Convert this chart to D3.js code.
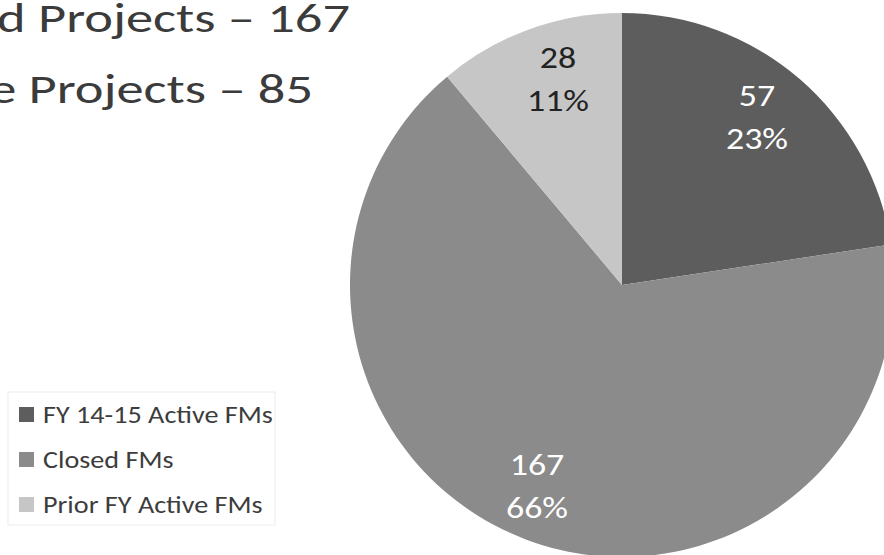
<!DOCTYPE html>
<html>
<head>
<meta charset="utf-8">
<script src="https://cdn.jsdelivr.net/npm/d3@7"></script>
<style>
  html, body { margin: 0; padding: 0; background: #fff; overflow: hidden; }
  svg { display: block; }
  text { font-family: Carlito, Calibri, Lato, "Open Sans", sans-serif; }
</style>
</head>
<body>
<svg id="chart" width="884" height="555"></svg>
<script>
// Project breakdown
const categories = ["FY 14-15 Active FMs", "Closed FMs", "Prior FY Active FMs"];
const values = [57, 167, 28];
const sliceColors = ["#5d5d5d", "#8b8b8b", "#c6c6c6"];
const labelColors = ["#ffffff", "#ffffff", "#222222"];
const headlines = ["Closed Projects \u2013 167", "Active Projects \u2013 85"];

const svg = d3.select("#chart");

// Width of a string in a given font size, used to widen the narrower fallback face
function measure(str, size) {
  const t = svg.append("text").attr("font-size", size).text(str);
  const w = t.node().getComputedTextLength();
  t.remove();
  return w;
}

// Headline lines (run off the left edge of the slide)
const headSize = 40;
const headScale = 353 / measure("d Projects \u2013 167", headSize);
const headEnds = [[350, 32], [313, 103]];
svg.selectAll("text.headline")
  .data(headlines)
  .join("text")
  .attr("class", "headline")
  .attr("transform", (d, i) => `translate(${headEnds[i][0]},${headEnds[i][1]}) scale(${headScale},1)`)
  .attr("text-anchor", "end")
  .attr("font-size", headSize)
  .attr("fill", "#3b3b3b")
  .text(d => d);

// Pie
const cx = 622, cy = 285, radius = 272;
const total = d3.sum(values);
const color = d3.scaleOrdinal().domain(categories).range(sliceColors);
const pie = d3.pie().sort(null).value(d => d.value);
const arcs = pie(categories.map((c, i) => ({ name: c, value: values[i], idx: i })));
const arc = d3.arc().innerRadius(0).outerRadius(radius);

const g = svg.append("g").attr("transform", `translate(${cx},${cy})`);
g.selectAll("path")
  .data(arcs)
  .join("path")
  .attr("d", arc)
  .attr("fill", d => color(d.data.name));

// Data labels: value and share, stacked inside each slice
const labelPos = [
  [757 - cx, 116 - cy],
  [537 - cx, 485 - cy],
  [558 - cx, 78 - cy]
];
const labelSize = 31;
const labelScale = 62 / measure("23%", labelSize);
const lbl = g.selectAll("g.lbl")
  .data(arcs)
  .join("g")
  .attr("class", "lbl")
  .attr("transform", (d, i) => `translate(${labelPos[i][0]},${labelPos[i][1]}) scale(${labelScale},1)`);
lbl.append("text")
  .attr("text-anchor", "middle")
  .attr("y", -10)
  .attr("font-size", labelSize)
  .attr("fill", d => labelColors[d.data.idx])
  .text(d => d.data.value);
lbl.append("text")
  .attr("text-anchor", "middle")
  .attr("y", 33)
  .attr("font-size", labelSize)
  .attr("fill", d => labelColors[d.data.idx])
  .text(d => Math.round(d.data.value / total * 100) + "%");

// Legend
const legendSize = 24;
const legendScale = 230 / measure(categories[0], legendSize);
const legend = svg.append("g").attr("transform", "translate(8,392)");
legend.append("rect")
  .attr("width", 267).attr("height", 133)
  .attr("fill", "#fff")
  .attr("stroke", "#ececec").attr("stroke-width", 1);
const rows = legend.selectAll("g.row")
  .data(categories)
  .join("g")
  .attr("class", "row")
  .attr("transform", (d, i) => `translate(0,${31 + i * 45})`);
rows.append("rect")
  .attr("x", 11).attr("y", -16)
  .attr("width", 15).attr("height", 15)
  .attr("fill", d => color(d));
rows.append("text")
  .attr("transform", `translate(35,0) scale(${legendScale},1)`)
  .attr("font-size", legendSize)
  .attr("fill", "#3d3d3d")
  .text(d => d);
</script>
</body>
</html>
